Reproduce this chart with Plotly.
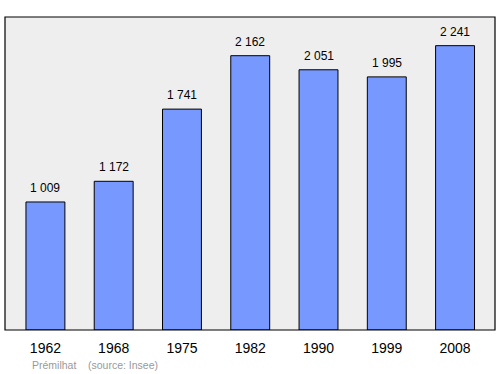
import plotly.graph_objects as go

years = ["1962", "1968", "1975", "1982", "1990", "1999", "2008"]
population = [1009, 1172, 1741, 2162, 2051, 1995, 2241]
value_labels = ["1 009", "1 172", "1 741", "2 162", "2 051", "1 995", "2 241"]

fig = go.Figure()
fig.add_trace(go.Bar(
    x=years, y=population, width=0.57,
    marker=dict(color="#7799ff", line=dict(color="#000000", width=1)),
    hoverinfo="skip",
))
for i, (v, lab) in enumerate(zip(population, value_labels)):
    fig.add_annotation(x=i, y=v, text=lab, showarrow=False, yanchor="bottom",
                       yshift=5, font=dict(family="Liberation Sans, Arial", size=12, color="#000"))

fig.add_shape(type="rect", xref="paper", yref="paper", x0=0, y0=0, x1=1, y1=1,
              line=dict(color="#000000", width=1.2), layer="above")

fig.add_annotation(xref="paper", yref="paper", x=0.051, y=-0.112, xanchor="left", yanchor="middle",
                   text="Prémilhat", showarrow=False,
                   font=dict(family="Liberation Sans, Arial", size=10.5, color="#999999"))
fig.add_annotation(xref="paper", yref="paper", x=0.166, y=-0.112, xanchor="left", yanchor="middle",
                   text="(source: Insee)", showarrow=False,
                   font=dict(family="Liberation Sans, Arial", size=10.5, color="#999999"))

fig.update_layout(
    width=500, height=374,
    margin=dict(l=5, r=5, t=17, b=44),
    paper_bgcolor="#ffffff", plot_bgcolor="#eeeeee",
    showlegend=False,
    xaxis=dict(type="category", range=[-0.592, 6.585], showgrid=False, zeroline=False, ticks="",
               ticklabelstandoff=8,
               tickfont=dict(family="Liberation Sans, Arial", size=14, color="#000")),
    yaxis=dict(range=[0, 2467], visible=False),
)
fig.write_html("out.html")
